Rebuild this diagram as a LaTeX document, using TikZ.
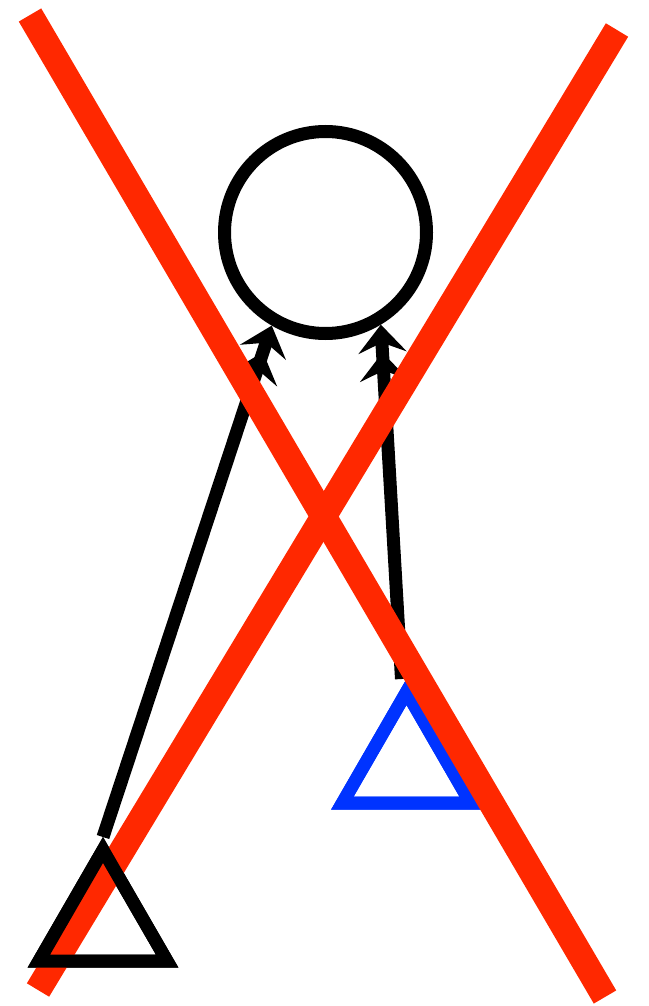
\documentclass[tikz,border=0pt]{standalone}
\usepackage{xcolor}
\usepackage{tikz}
\usetikzlibrary{shapes.geometric, arrows.meta}
\definecolor{crossred}{RGB}{255,40,0}
\definecolor{tribblue}{RGB}{0,51,255}

\begin{document}
\begin{tikzpicture}[
    tri/.style={draw, regular polygon, regular polygon sides=3, inner sep=0pt, minimum size=148pt, line width=13pt},
    link/.style={line width=13pt, -{Stealth[length=28pt,width=48pt,inset=10pt]Stealth[length=28pt,width=48pt,inset=10pt]}},
    cross/.style={crossred, line width=26pt}]
            \useasboundingbox (0pt,0pt) rectangle (648pt,-1006pt);
            % Circle
            \node[draw, circle, line width=13pt, minimum size=202pt, inner sep=0pt] (ball) at (325.5pt,-232.5pt) {};
            % Triangles
            \node[tri] (lefttri) at (103pt,-924pt) {};
            \node[tri, draw=tribblue] (bluetri) at (406.5pt,-766pt) {};
            % Arrows
            \draw[link] (lefttri.corner 1) -- (ball.240);
            \draw[link] ([xshift=-5pt]bluetri.corner 1) -- (ball.301);
            % Redraw blue triangle over its arrow
            \node[tri, draw=tribblue] at (406.5pt,-766pt) {};
            % Red cross
            \draw[cross] (30pt,-15pt) -- (605pt,-997pt);
            \draw[cross] (617pt,-30pt) -- (38pt,-990pt);
            % Black triangle on top
            \node[tri] at (103pt,-924pt) {};
        \end{tikzpicture}
\end{document}
